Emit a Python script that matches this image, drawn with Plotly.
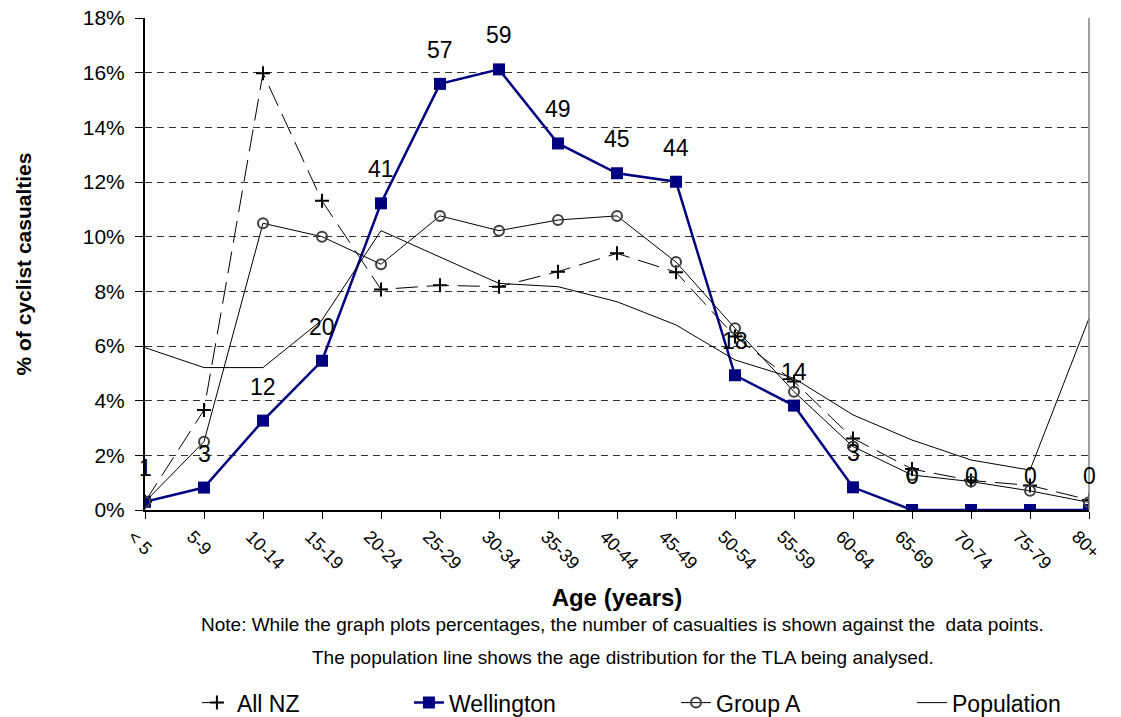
import plotly.graph_objects as go

# ---------------- data ----------------
age_groups = ["< 5", "5-9", "10-14", "15-19", "20-24", "25-29", "30-34", "35-39",
              "40-44", "45-49", "50-54", "55-59", "60-64", "65-69", "70-74", "75-79", "80+"]

all_nz = [0.30, 3.66, 15.98, 11.31, 8.07, 8.22, 8.17, 8.72, 9.39, 8.70,
          6.35, 4.70, 2.62, 1.50, 1.08, 0.90, 0.37]
wellington = [0.30, 0.82, 3.27, 5.46, 11.22, 15.59, 16.12, 13.41, 12.32, 12.01,
              4.93, 3.82, 0.83, 0.0, 0.0, 0.0, 0.0]
wellington_counts = [1, 3, 12, 20, 41, 57, 59, 49, 45, 44, 18, 14, 3, 0, 0, 0, 0]
group_a = [0.30, 2.50, 10.49, 10.00, 8.99, 10.76, 10.22, 10.61, 10.76, 9.07,
           6.65, 4.33, 2.32, 1.28, 1.04, 0.70, 0.28]
population = [5.94, 5.21, 5.21, 6.95, 10.22, 9.25, 8.29, 8.17, 7.62, 6.77,
              5.49, 4.82, 3.48, 2.56, 1.83, 1.46, 7.01]

y_ticks = [0, 2, 4, 6, 8, 10, 12, 14, 16, 18]
y_tick_labels = [f"{v}%" for v in y_ticks]

note_1 = "Note: While the graph plots percentages, the number of casualties is shown against the  data points."
note_2 = "The population line shows the age distribution for the TLA being analysed."

FONT = "Liberation Sans, Arial, sans-serif"
NAVY = "#000080"

fig = go.Figure()

fig.add_trace(go.Scatter(
    x=age_groups, y=all_nz, name="All NZ", mode="lines+markers",
    line=dict(color="black", width=1, dash="22px,9px"),
    marker=dict(symbol="cross-thin", size=10, color="black",
                line=dict(color="black", width=2)),
    legend="legend"))

fig.add_trace(go.Scatter(
    x=age_groups, y=wellington, name="Wellington", mode="lines+markers",
    line=dict(color=NAVY, width=2.5),
    marker=dict(symbol="square", size=12, color=NAVY),
    legend="legend2"))

fig.add_trace(go.Scatter(
    x=age_groups, y=group_a, name="Group A", mode="lines+markers",
    line=dict(color="black", width=1),
    marker=dict(symbol="circle-open", size=10, color="#404040",
                line=dict(color="#404040", width=2)),
    legend="legend3"))

fig.add_trace(go.Scatter(
    x=age_groups, y=population, name="Population", mode="lines",
    line=dict(color="black", width=1),
    legend="legend4"))

# data labels (counts) above the Wellington points
for cat, val, cnt in zip(age_groups, wellington, wellington_counts):
    fig.add_annotation(x=cat, y=val, text=str(cnt), showarrow=False,
                       yshift=34, font=dict(size=23, color="black", family=FONT))

# notes
fig.add_annotation(x=0.506, y=-0.2337, xref="paper", yref="paper", text=note_1,
                   showarrow=False, yanchor="middle",
                   font=dict(size=19, color="black", family=FONT))
fig.add_annotation(x=0.506, y=-0.2988, xref="paper", yref="paper", text=note_2,
                   showarrow=False, yanchor="middle",
                   font=dict(size=19, color="black", family=FONT))

# right border of plot area
fig.add_shape(type="line", xref="x domain", yref="y domain", x0=1, x1=1, y0=0, y1=1,
              line=dict(color="#808080", width=1.5))

leg_common = dict(orientation="h", yref="container", yanchor="middle", y=0.02,
                  xanchor="left",
                  font=dict(size=23, color="black", family=FONT),
                  bgcolor="rgba(0,0,0,0)", borderwidth=0)

fig.update_layout(
    width=1121, height=717,
    margin=dict(l=145, r=32, t=18, b=207, autoexpand=False),
    paper_bgcolor="white", plot_bgcolor="white",
    font=dict(family=FONT, color="black"),
    showlegend=True,
    legend=dict(x=0.0550, **leg_common),
    legend2=dict(x=0.2796, **leg_common),
    legend3=dict(x=0.5625, **leg_common),
    legend4=dict(x=0.8125, **leg_common),
    xaxis=dict(
        type="category", range=[0, 16], automargin=False,
        showline=True, linecolor="black", linewidth=2,
        ticks="outside", ticklen=7, tickcolor="black", tickwidth=1,
        tickangle=45, tickfont=dict(size=18, family=FONT),
        ticklabelshift=-12,
        showgrid=False, zeroline=False,
        title=dict(text="<b>Age (years)</b>", font=dict(size=24, family=FONT), standoff=17),
    ),
    yaxis=dict(
        range=[0, 18], tickvals=y_ticks, ticktext=y_tick_labels, automargin=False,
        showline=True, linecolor="black", linewidth=2,
        ticks="outside", ticklen=8, tickcolor="black", tickwidth=1,
        tickfont=dict(size=21, family=FONT), ticklabelstandoff=6,
        showgrid=True, gridcolor="#333333", gridwidth=1, griddash="7px,5px",
        zeroline=False,
        title=dict(text="<b>% of cyclist casualties</b>", font=dict(size=21, family=FONT),
                   standoff=45),
    ),
)

fig.write_html("out.html", config={"displayModeBar": False},
               post_script="document.body.style.margin='0px';")
